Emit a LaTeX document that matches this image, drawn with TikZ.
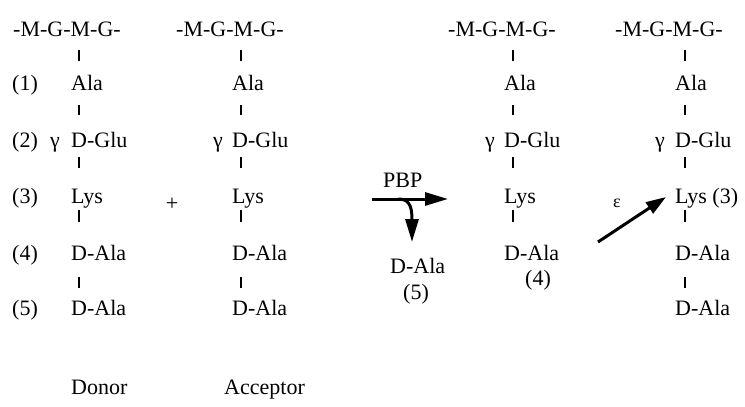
\documentclass[tikz,border=0pt]{standalone}
\usepackage{fontspec}
\setmainfont{Liberation Serif}
\usetikzlibrary{arrows.meta,calc}
% short bond mark between two residues of one column:
% #1 upper node, #2 lower node, #3 x offset, #4 start below #1, #5 end above #2
\newcommand\bondtick[5]{\draw[bond] ([shift={(#3,#4)}]#1.base west) -- ([shift={(#3,#5)}]#2.base west);}
\begin{document}
\begin{tikzpicture}[x=1pt,y=-1pt,
  res/.style={anchor=base west,inner sep=0pt,font=\fontsize{22}{26}\selectfont},
  bond/.style={line width=1.6pt},
  fat/.style={line width=3pt,-{Triangle[length=23pt,width=13pt]}}]
\useasboundingbox (0,0) rectangle (745,407);

% ---- donor chain ----
\node[res] (h1) at (13,36)  {-M-G-M-G-};
\node[res] (a1) at (71,90)  {Ala};
\node[res] (g1) at (71,147) {D-Glu};
\node[res] (l1) at (71,203) {Lys};
\node[res] (d1) at (71,260) {D-Ala};
\node[res] (e1) at (71,315) {D-Ala};
\node[res] (n1) at (12,90)  {(1)};
\node[res] (n2) at (12,147) {(2)};
\node[res] (n3) at (12,203) {(3)};
\node[res] (n4) at (12,260) {(4)};
\node[res] (n5) at (12,315) {(5)};
\node[res] (y1) at (50,147) {γ};
\node[res] (donor) at (71,394) {Donor};
\bondtick{a1}{a1}{8}{-40}{-29}
\bondtick{a1}{g1}{8}{15}{-32}
\bondtick{g1}{l1}{8}{10}{-35}
\bondtick{l1}{d1}{8}{7}{-38}
\bondtick{d1}{e1}{8}{17}{-27}

% ---- acceptor chain ----
\node[res] (h2) at (176,36)  {-M-G-M-G-};
\node[res] (a2) at (232,90)  {Ala};
\node[res] (g2) at (232,147) {D-Glu};
\node[res] (l2) at (232,203) {Lys};
\node[res] (d2) at (232,260) {D-Ala};
\node[res] (e2) at (232,315) {D-Ala};
\node[res] (y2) at (213,147) {γ};
\node[res] (acc) at (224,394) {Acceptor};
\node[font=\fontsize{22}{26}\selectfont,inner sep=0pt] (plus) at (172,204) {+};
\bondtick{a2}{a2}{9}{-40}{-29}
\bondtick{a2}{g2}{9}{15}{-32}
\bondtick{g2}{l2}{9}{10}{-35}
\bondtick{l2}{d2}{9}{7}{-38}
\bondtick{d2}{e2}{9}{17}{-27}

% ---- transpeptidation by PBP ----
\node[res] (pbp) at (383,187) {PBP};
\coordinate (rs) at (372,199);
\coordinate (re) at (448,199);
\coordinate (bs) at (398,199);
\coordinate (be) at (412,242);
\draw[fat] (rs) -- (re);
\draw[fat] (bs) .. controls (408,199) and (412,204) .. (be);
\node[res] (rel) at (390,273) {D-Ala};
\node[res] (rel5) at (403,299) {(5)};

% ---- acyl-enzyme chain ----
\node[res] (h3) at (448,36)  {-M-G-M-G-};
\node[res] (a3) at (504,90)  {Ala};
\node[res] (g3) at (504,147) {D-Glu};
\node[res] (l3) at (504,203) {Lys};
\node[res] (d3) at (504,260) {D-Ala};
\node[res] (y3) at (485,147) {γ};
\node[res] (n34) at (525,285) {(4)};
\bondtick{a3}{a3}{9}{-40}{-29}
\bondtick{a3}{g3}{9}{15}{-32}
\bondtick{g3}{l3}{9}{10}{-35}
\bondtick{l3}{d3}{9}{7}{-38}

% ---- cross-linked acceptor chain ----
\node[res] (h4) at (615,36)  {-M-G-M-G-};
\node[res] (a4) at (675,90)  {Ala};
\node[res] (g4) at (675,147) {D-Glu};
\node[res] (l4) at (675,203) {Lys (3)};
\node[res] (d4) at (675,260) {D-Ala};
\node[res] (e4) at (675,315) {D-Ala};
\node[res] (y4) at (655,147) {γ};
\bondtick{a4}{a4}{10}{-40}{-29}
\bondtick{a4}{g4}{10}{15}{-32}
\bondtick{g4}{l4}{10}{10}{-35}
\bondtick{l4}{d4}{10}{7}{-38}
\bondtick{d4}{e4}{10}{17}{-27}

% epsilon-amino attack
\node[font=\fontsize{18}{22}\selectfont,inner sep=0pt] (eps) at (617,203) {ε};
\coordinate (es) at (598,242);
\coordinate (ee) at (666,197);
\draw[line width=3pt,-{Triangle[length=20pt,width=13pt]}] (es) -- (ee);
\end{tikzpicture}
\end{document}
